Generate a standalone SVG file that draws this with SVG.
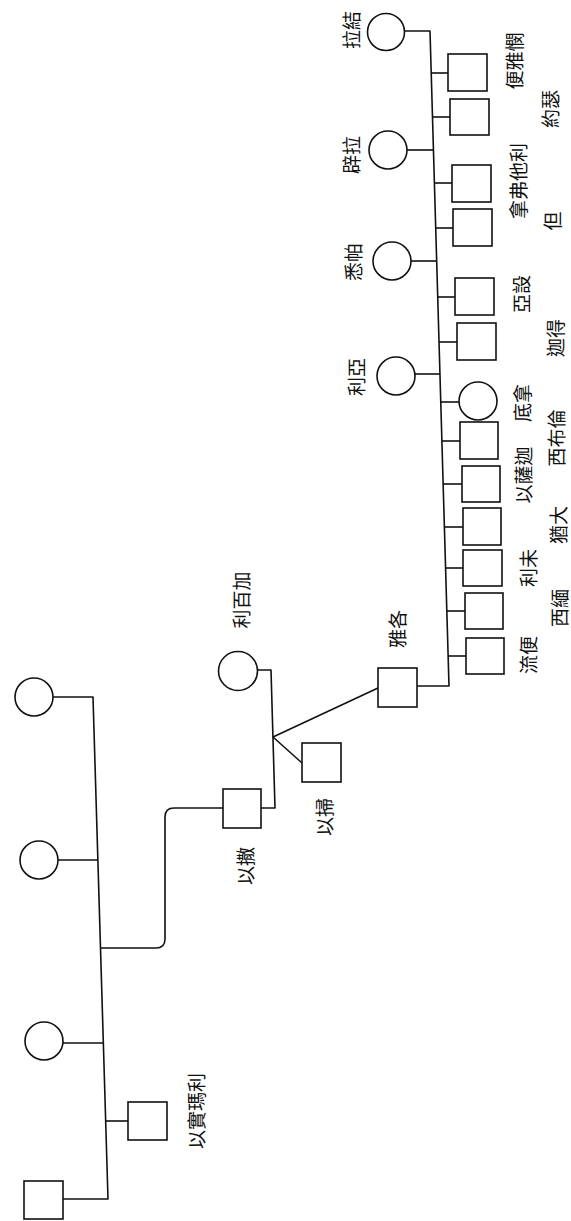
<svg xmlns="http://www.w3.org/2000/svg" width="571" height="1221" viewBox="0 0 571 1221">
<style>
.s{fill:#fff;stroke:#111;stroke-width:1.6}
.c{fill:none;stroke:#111;stroke-width:1.6;stroke-linejoin:round}
.t{font-family:"Noto Sans CJK TC","Noto Sans CJK SC",sans-serif;font-size:19px;fill:#111;text-anchor:middle;dominant-baseline:central}
</style>
<rect width="571" height="1221" fill="#fff"/>
<g id="connectors">
<path class="c" d="M53,697 H93 L108,1199 H63"/>
<path class="c" d="M58,860 H98"/>
<path class="c" d="M63,1043 H103"/>
<path class="c" d="M106,1121 H128"/>
<path class="c" d="M101,948 H156 Q165,948 165,939 V817 Q165,808 174,808 H223"/>
<path class="c" d="M257,670 H271 L275,808 H261"/>
<path class="c" d="M273,737 L378,688"/>
<path class="c" d="M273,737 L302,763"/>
<path class="c" d="M417,686 H449 L430,31 H404"/>
<path class="c" d="M407,150 H433.5"/>
<path class="c" d="M411,261 H436.6"/>
<path class="c" d="M415,374 H440"/>
<path class="c" d="M431.2,73 H448"/>
<path class="c" d="M432.5,117 H450"/>
<path class="c" d="M434.4,183 H452"/>
<path class="c" d="M435.7,228 H453"/>
<path class="c" d="M437.7,297 H455"/>
<path class="c" d="M439,342 H457"/>
<path class="c" d="M440.8,402 H459"/>
<path class="c" d="M442,441 H460"/>
<path class="c" d="M443.1,484 H462"/>
<path class="c" d="M444.4,527 H463"/>
<path class="c" d="M445.6,568 H463"/>
<path class="c" d="M446.9,611 H465"/>
<path class="c" d="M448.2,656 H466"/>
</g>
<g id="wife1"><circle class="s" cx="34" cy="697" r="19"/></g>
<g id="wife2"><circle class="s" cx="39" cy="860" r="19"/></g>
<g id="wife3"><circle class="s" cx="44" cy="1041" r="19"/></g>
<g id="ishmael"><rect class="s" x="128" y="1102" width="39" height="38"/><text class="t" transform="translate(195,1111) rotate(-90)">以實瑪利</text></g>
<g id="son-bottom"><rect class="s" x="24" y="1181" width="39" height="38"/></g>
<g id="isaac"><rect class="s" x="223" y="789" width="38" height="39"/><text class="t" transform="translate(244,866) rotate(-90)">以撒</text></g>
<g id="rebekah"><circle class="s" cx="238" cy="671" r="19.5"/><text class="t" transform="translate(240,600) rotate(-90)">利百加</text></g>
<g id="esau"><rect class="s" x="302" y="743" width="39" height="39"/><text class="t" transform="translate(323,817) rotate(-90)">以掃</text></g>
<g id="jacob"><rect class="s" x="378" y="668" width="39" height="39"/><text class="t" transform="translate(396,629) rotate(-90)">雅各</text></g>
<g id="rachel"><circle class="s" cx="386" cy="32" r="18.5"/><text class="t" transform="translate(350,30) rotate(-90)">拉結</text></g>
<g id="bilhah"><circle class="s" cx="388" cy="150" r="19"/><text class="t" transform="translate(350,155) rotate(-90)">辟拉</text></g>
<g id="zilpah"><circle class="s" cx="392" cy="261" r="19"/><text class="t" transform="translate(352,262) rotate(-90)">悉帕</text></g>
<g id="leah"><circle class="s" cx="396" cy="376" r="19"/><text class="t" transform="translate(355,377) rotate(-90)">利亞</text></g>
<g id="benjamin"><rect class="s" x="448" y="54" width="39" height="37"/><text class="t" transform="translate(513,61) rotate(-90)">便雅憫</text></g>
<g id="joseph"><rect class="s" x="450" y="99" width="39" height="36"/><text class="t" transform="translate(549,109) rotate(-90)">約瑟</text></g>
<g id="naphtali"><rect class="s" x="452" y="165" width="39" height="37"/><text class="t" transform="translate(517,181) rotate(-90)">拿弗他利</text></g>
<g id="dan"><rect class="s" x="453" y="209" width="39" height="37"/><text class="t" transform="translate(551,221) rotate(-90)">但</text></g>
<g id="asher"><rect class="s" x="455" y="278" width="39" height="37"/><text class="t" transform="translate(520,294) rotate(-90)">亞設</text></g>
<g id="gad"><rect class="s" x="457" y="323" width="39" height="37"/><text class="t" transform="translate(554,338) rotate(-90)">迦得</text></g>
<g id="dinah"><circle class="s" cx="478" cy="401" r="19"/><text class="t" transform="translate(521,403) rotate(-90)">底拿</text></g>
<g id="zebulun"><rect class="s" x="460" y="422" width="38" height="37"/><text class="t" transform="translate(555,438) rotate(-90)">西布倫</text></g>
<g id="issachar"><rect class="s" x="462" y="466" width="38" height="36"/><text class="t" transform="translate(522,475) rotate(-90)">以薩迦</text></g>
<g id="judah"><rect class="s" x="463" y="508" width="38" height="37"/><text class="t" transform="translate(557,525) rotate(-90)">猶大</text></g>
<g id="levi"><rect class="s" x="463" y="550" width="39" height="36"/><text class="t" transform="translate(527,568) rotate(-90)">利未</text></g>
<g id="simeon"><rect class="s" x="465" y="593" width="38" height="36"/><text class="t" transform="translate(558,608) rotate(-90)">西緬</text></g>
<g id="reuben"><rect class="s" x="466" y="638" width="38" height="36"/><text class="t" transform="translate(527,655) rotate(-90)">流便</text></g>
</svg>
